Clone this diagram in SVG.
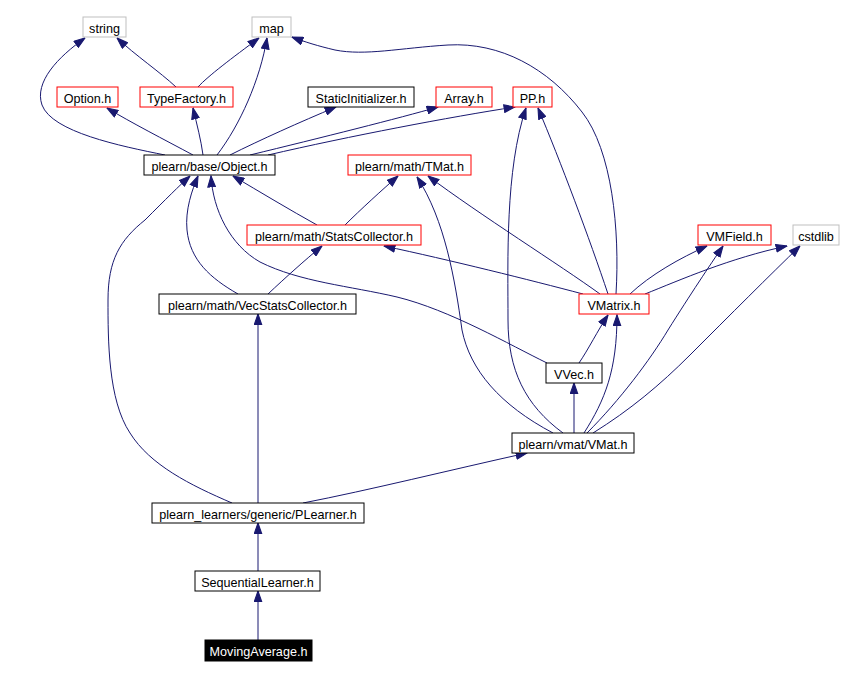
<svg xmlns="http://www.w3.org/2000/svg" width="846" height="678" viewBox="0 0 846 678">
<style>
.n rect{fill:#fff;stroke:#000;stroke-width:1}
.n.r rect{stroke:#ff0000}
.n.g rect{stroke:#bfbfbf}
.n text{font-family:"Liberation Sans",Arial,sans-serif;font-size:12.6px;fill:#000;text-anchor:middle}
.n.k rect{fill:#000;stroke:#000}
.n.k text{fill:#fff}
#edges path{fill:none;stroke:#191970;stroke-width:1;marker-end:url(#a)}
</style>
<defs>
<marker id="a" markerUnits="userSpaceOnUse" markerWidth="12" markerHeight="9" viewBox="0 0 11 8" refX="10.5" refY="4" orient="auto">
<path d="M0.5,0.5 L10.5,4 L0.5,7.5 z" fill="#191970" stroke="#191970" stroke-width="1"/>
</marker>
</defs>
<rect width="846" height="678" fill="#fff"/>
<g id="edges">
<path d="M165,155 C120,146 52,132 42,105 C34,82 58,57 85,38"/>
<path d="M176,87 C160,72 135,55 117,38"/>
<path d="M198,87 C208,76 232,58 259,38"/>
<path d="M217,155 C240,125 260,80 267,38"/>
<path d="M616,294 C620,230 612,150 582,112 C548,68 500,42 448,45 C400,48 365,56 335,50 C318,46 305,42 292,37"/>
<path d="M193,155 C165,140 130,122 107,108"/>
<path d="M203,155 C201,140 197,125 193,108"/>
<path d="M230,155 C260,140 300,122 336,107"/>
<path d="M250,155 C320,138 400,118 438,107"/>
<path d="M268,155 C350,136 450,117 515,107"/>
<path d="M317,225 C290,210 260,192 233,176"/>
<path d="M345,225 C360,210 382,190 398,176"/>
<path d="M238,294 C210,278 190,260 187,230 C185,210 192,190 198,176"/>
<path d="M268,294 C285,278 305,260 322,246"/>
<path d="M547,363 C510,345 450,310 397,297 C350,286 300,282 260,262 C230,245 213,210 211,176"/>
<path d="M583,294 C530,280 450,260 384,246"/>
<path d="M600,294 C560,265 480,215 428,176"/>
<path d="M608,294 C590,240 560,160 538,108"/>
<path d="M630,294 C650,275 680,258 707,246"/>
<path d="M645,294 C680,280 730,258 787,246"/>
<path d="M579,363 C588,350 598,330 608,315"/>
<path d="M574,433 L574,383"/>
<path d="M553,433 C500,405 470,370 462,330 C455,280 445,220 417,177"/>
<path d="M563,433 C525,405 508,370 508,320 C508,260 505,170 526,108"/>
<path d="M584,433 C605,400 617,370 617,315"/>
<path d="M587,433 C620,400 650,360 668,330 C690,295 710,265 723,246"/>
<path d="M593,433 C630,410 660,385 690,355 C730,315 770,275 800,246"/>
<path d="M232,503 C190,485 150,465 130,433 C108,400 108,340 108,300 C108,260 120,240 145,220 C165,200 180,185 190,176"/>
<path d="M258,503 L258,314"/>
<path d="M303,503 C370,490 450,470 527,453"/>
<path d="M258,571 L258,523"/>
<path d="M258,640 L258,591"/>
</g>
<g id="string" class="n g"><rect x="83" y="17" width="43" height="20"/><text x="104.5" y="32.5">string</text></g>
<g id="map" class="n g"><rect x="252" y="17" width="39" height="20"/><text x="271.5" y="32.5">map</text></g>
<g id="option" class="n r"><rect x="57" y="87" width="61" height="20"/><text x="87.5" y="102.5">Option.h</text></g>
<g id="typefactory" class="n r"><rect x="140" y="87" width="93" height="20"/><text x="186.5" y="102.5">TypeFactory.h</text></g>
<g id="staticinit" class="n"><rect x="308" y="87" width="106" height="20"/><text x="361" y="102.5">StaticInitializer.h</text></g>
<g id="array" class="n r"><rect x="436" y="87" width="56" height="20"/><text x="464" y="102.5">Array.h</text></g>
<g id="pp" class="n r"><rect x="513" y="87" width="39" height="20"/><text x="532.5" y="102.5">PP.h</text></g>
<g id="object" class="n"><rect x="144" y="155" width="131" height="20"/><text x="209.5" y="170.5">plearn/base/Object.h</text></g>
<g id="tmat" class="n r"><rect x="348" y="155" width="123" height="20"/><text x="409.5" y="170.5">plearn/math/TMat.h</text></g>
<g id="statscollector" class="n r"><rect x="247" y="225" width="174" height="20"/><text x="334" y="240.5">plearn/math/StatsCollector.h</text></g>
<g id="vmfield" class="n r"><rect x="698" y="225" width="73" height="20"/><text x="734.5" y="240.5">VMField.h</text></g>
<g id="cstdlib" class="n g"><rect x="793" y="225" width="46" height="20"/><text x="816" y="240.5">cstdlib</text></g>
<g id="vecstats" class="n"><rect x="159" y="294" width="197" height="20"/><text x="257.5" y="309.5">plearn/math/VecStatsCollector.h</text></g>
<g id="vmatrix" class="n r"><rect x="579" y="294" width="70" height="20"/><text x="614" y="309.5">VMatrix.h</text></g>
<g id="vvec" class="n"><rect x="546" y="363" width="56" height="20"/><text x="574" y="378.5">VVec.h</text></g>
<g id="vmat" class="n"><rect x="512" y="433" width="122" height="20"/><text x="573" y="448.5">plearn/vmat/VMat.h</text></g>
<g id="plearner" class="n"><rect x="152" y="503" width="212" height="20"/><text x="258" y="518.5">plearn_learners/generic/PLearner.h</text></g>
<g id="sequential" class="n"><rect x="195" y="571" width="125" height="20"/><text x="257.5" y="586.5">SequentialLearner.h</text></g>
<g id="movingaverage" class="n k"><rect x="205" y="640" width="107" height="21"/><text x="258.5" y="655.5">MovingAverage.h</text></g>
</svg>
